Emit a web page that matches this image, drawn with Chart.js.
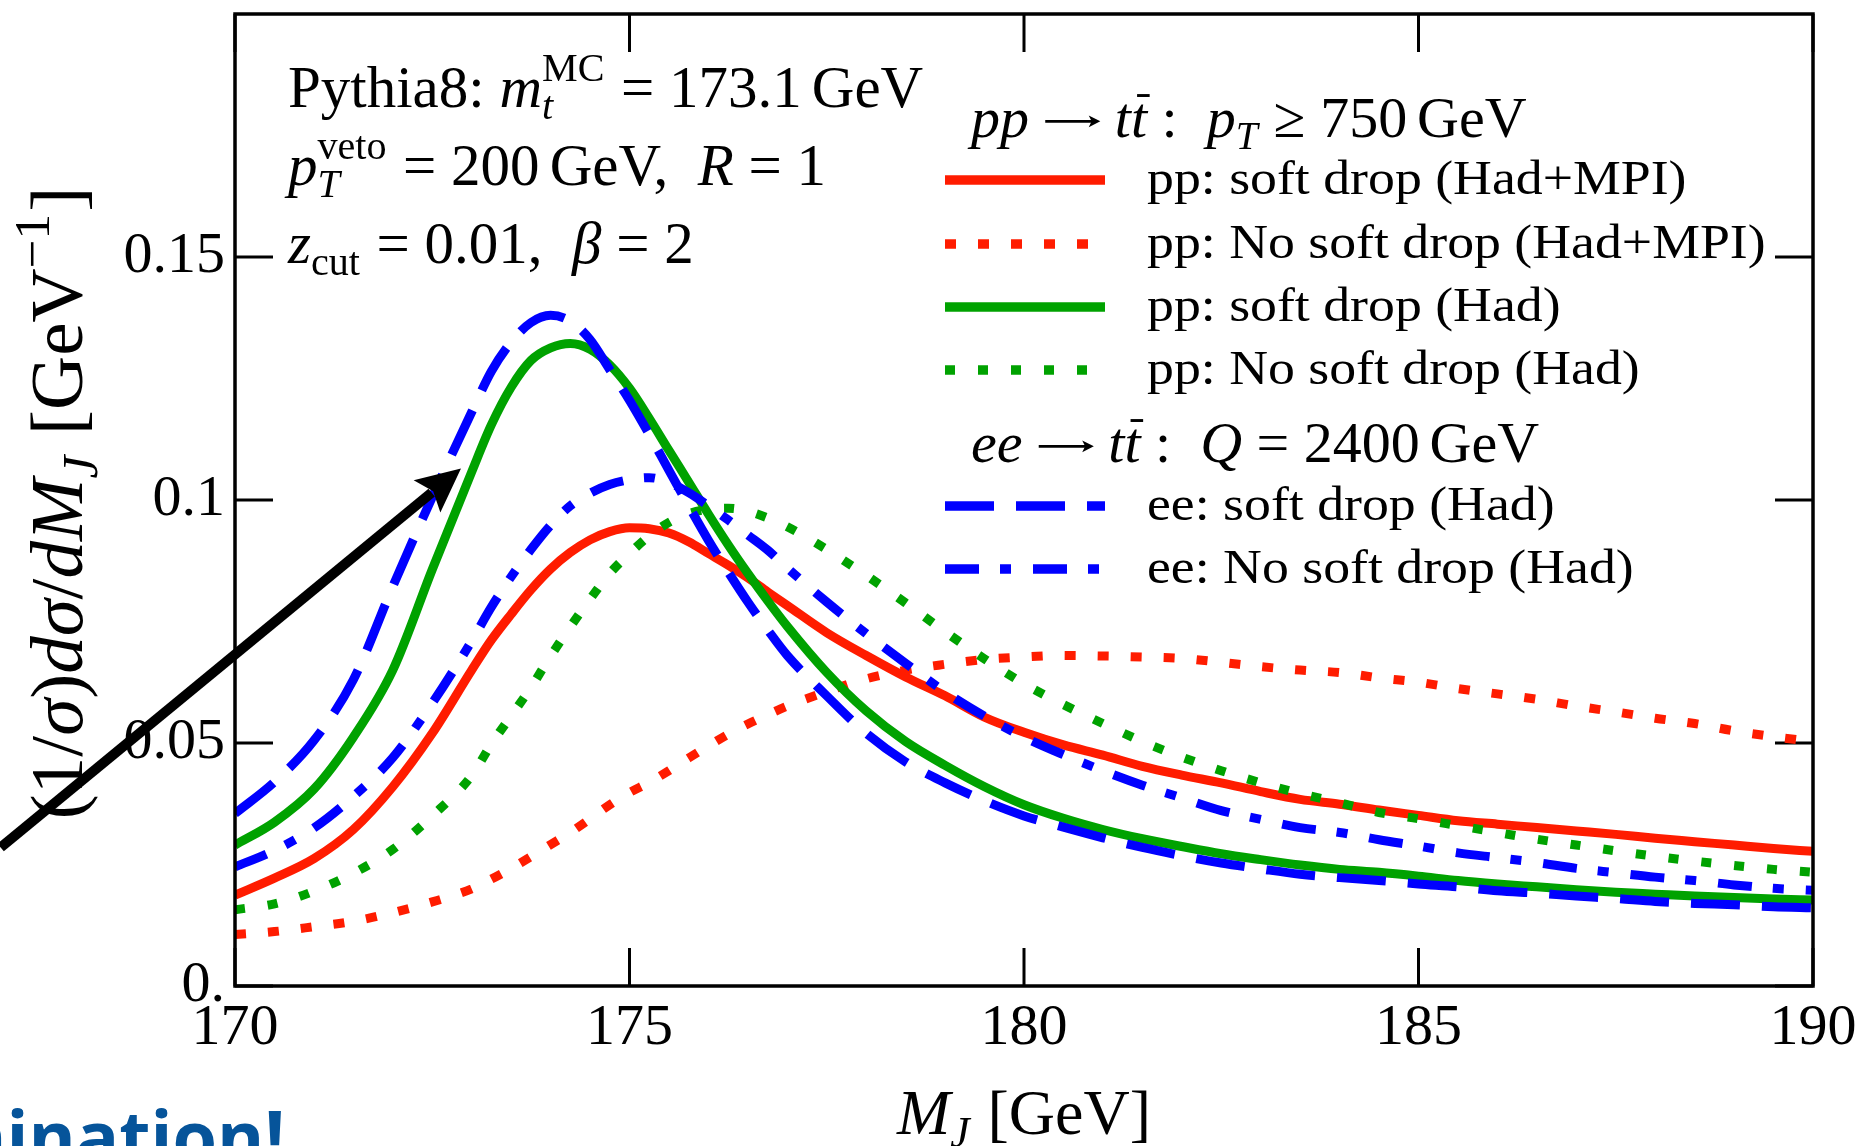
<!DOCTYPE html>
<html>
<head>
<meta charset="utf-8">
<title>Jet mass distributions</title>
<script src="https://cdn.jsdelivr.net/npm/chart.js@4.4.1/dist/chart.umd.min.js"></script>
<style>
  html, body { margin: 0; padding: 0; background: #fff; overflow: hidden; }
  canvas { display: block; }
</style>
</head>
<body>
<canvas id="chart" width="1868" height="1146"></canvas>
<script>
// Jet mass grid M_J [GeV] (finer around the peaks)
const massX = [170, 170.5, 171, 171.5, 172, 172.5,
  173, 173.25, 173.5, 173.75, 174, 174.25, 174.5, 174.75, 175, 175.25, 175.5, 175.75, 176, 176.25, 176.5, 176.75, 177,
  177.5, 178, 178.5, 179, 179.5, 180, 180.5, 181, 181.5, 182, 182.5, 183, 183.5, 184, 184.5, 185, 185.5, 186, 186.5,
  187, 187.5, 188, 188.5, 189, 189.5, 190];

// (1/sigma) dsigma/dM_J [GeV^-1]
const ppSoftDropHadMPI = [0.0187, 0.0222, 0.0262, 0.0322, 0.0410, 0.0520,
  0.0650, 0.0712, 0.0765, 0.0815, 0.0858, 0.0892, 0.0918, 0.0935, 0.0943, 0.0941, 0.0932, 0.0914, 0.0890, 0.0866, 0.0840, 0.0811, 0.0783,
  0.0727, 0.0680, 0.0636, 0.0597, 0.0553, 0.0522, 0.0496, 0.0475, 0.0452, 0.0434, 0.0418, 0.0400, 0.0384, 0.0374, 0.0362, 0.0351, 0.0340,
  0.0333, 0.0326, 0.0319, 0.0312, 0.0304, 0.0297, 0.0290, 0.0283, 0.0277];

const ppNoSoftDropHadMPI = [0.0106, 0.0112, 0.0122, 0.0133, 0.0151, 0.0173,
  0.0200, 0.0220, 0.0242, 0.0266, 0.0291, 0.0316, 0.0344, 0.0373, 0.0398, 0.0419, 0.0443, 0.0469, 0.0494, 0.0518, 0.0539, 0.0558, 0.0576,
  0.0606, 0.0632, 0.0650, 0.0662, 0.0672, 0.0677, 0.0680, 0.0679, 0.0677, 0.0674, 0.0666, 0.0657, 0.0650, 0.0645, 0.0634, 0.0625, 0.0612,
  0.0601, 0.0590, 0.0576, 0.0564, 0.0551, 0.0540, 0.0525, 0.0513, 0.0503];

const ppSoftDropHad = [0.0290, 0.0337, 0.0405, 0.0512, 0.0650, 0.0857,
  0.1058, 0.1155, 0.1232, 0.1287, 0.1313, 0.1322, 0.1310, 0.1278, 0.1230, 0.1168, 0.1102, 0.1037, 0.0971, 0.0908, 0.0849, 0.0793, 0.0740,
  0.0645, 0.0566, 0.0503, 0.0454, 0.0410, 0.0373, 0.0345, 0.0322, 0.0303, 0.0287, 0.0272, 0.0260, 0.0249, 0.0240, 0.0234, 0.0226, 0.0217,
  0.0210, 0.0204, 0.0198, 0.0193, 0.0189, 0.0185, 0.0182, 0.0179, 0.0177];

const ppNoSoftDropHad = [0.0157, 0.0169, 0.0195, 0.0232, 0.0281, 0.0350,
  0.0433, 0.0498, 0.0556, 0.0614, 0.0679, 0.0739, 0.0796, 0.0849, 0.0890, 0.0926, 0.0954, 0.0972, 0.0981, 0.0983, 0.0977, 0.0963, 0.0945,
  0.0898, 0.0845, 0.0788, 0.0729, 0.0673, 0.0622, 0.0579, 0.0540, 0.0503, 0.0471, 0.0443, 0.0418, 0.0396, 0.0377, 0.0357, 0.0344, 0.0330,
  0.0316, 0.0302, 0.0290, 0.0278, 0.0267, 0.0257, 0.0248, 0.0240, 0.0234];

const eeSoftDropHad = [0.0355, 0.0420, 0.0505, 0.0630, 0.0822, 0.1006,
  0.1181, 0.1265, 0.1325, 0.1365, 0.1380, 0.1368, 0.1330, 0.1268, 0.1205, 0.1135, 0.1061, 0.0988, 0.0917, 0.0852, 0.0790, 0.0733, 0.0680,
  0.0597, 0.0520, 0.0461, 0.0418, 0.0381, 0.0350, 0.0327, 0.0305, 0.0285, 0.0268, 0.0253, 0.0241, 0.0230, 0.0223, 0.0217, 0.0210, 0.0204,
  0.0196, 0.0191, 0.0185, 0.0180, 0.0174, 0.0170, 0.0167, 0.0163, 0.0161];

const eeNoSoftDropHad = [0.0245, 0.0279, 0.0325, 0.0390, 0.0470, 0.0582,
  0.0710, 0.0780, 0.0842, 0.0898, 0.0948, 0.0988, 0.1014, 0.1032, 0.1042, 0.1046, 0.1036, 0.1015, 0.0988, 0.0959, 0.0928, 0.0897, 0.0860,
  0.0790, 0.0725, 0.0664, 0.0605, 0.0555, 0.0512, 0.0476, 0.0443, 0.0413, 0.0387, 0.0361, 0.0343, 0.0326, 0.0316, 0.0301, 0.0288, 0.0274,
  0.0264, 0.0254, 0.0242, 0.0233, 0.0224, 0.0217, 0.0208, 0.0201, 0.0197];

const seriesLabels = [
  'pp: soft drop (Had+MPI)',
  'pp: No soft drop (Had+MPI)',
  'pp: soft drop (Had)',
  'pp: No soft drop (Had)',
  'ee: soft drop (Had)',
  'ee: No soft drop (Had)'
];

// Tick labels
const xMajorTicks = [170, 175, 180, 185, 190];
const xTickLabels = ['170', '175', '180', '185', '190'];
const yMajorTicks = [0, 0.05, 0.1, 0.15];
const yTickLabels = ['0.', '0.05', '0.1', '0.15'];

// Arrow annotation, in data units
const arrowTail = { x: 167.03, y: 0.0285 };
const arrowTip = { x: 172.864, y: 0.1065 };

const RED = '#ff1c00';
const GREEN = '#00a200';
const BLUE = '#0000ff';
const SERIF = '"Liberation Serif", "Times New Roman", serif';

const styles = [
  { color: RED, dash: [] },
  { color: RED, dash: [11, 22] },
  { color: GREEN, dash: [] },
  { color: GREEN, dash: [10, 23] },
  { color: BLUE, dash: [49, 22] },
  { color: BLUE, dash: [34, 21, 11, 22] }
];
const seriesValues = [ppSoftDropHadMPI, ppNoSoftDropHadMPI, ppSoftDropHad, ppNoSoftDropHad, eeSoftDropHad, eeNoSoftDropHad];

const datasets = seriesValues.map((vals, i) => ({
  label: seriesLabels[i],
  data: massX.map((x, k) => ({ x: x, y: vals[k] })),
  borderColor: styles[i].color,
  borderDash: styles[i].dash,
  borderWidth: 9,
  borderCapStyle: 'butt',
  borderJoinStyle: 'round',
  pointRadius: 0,
  fill: false,
  cubicInterpolationMode: 'monotone',
  order: 6 - i,
  clip: 0
}));

function fnt(size, italic) {
  return (italic ? 'italic ' : '') + size + 'px ' + SERIF;
}

// Draws a run of mixed roman / italic / sub / superscript pieces; returns its width
function drawRuns(ctx, list, x, y, size, draw) {
  let cx = x;
  for (const r of list) {
    if (r.sp) { cx += r.sp * size; continue; }
    if ('sub' in r || 'sup' in r) {
      const s = size * 0.68;
      let w = 0;
      if (r.sup) {
        ctx.font = fnt(s, r.supI);
        if (draw) ctx.fillText(r.sup, cx, y - 0.44 * size);
        w = Math.max(w, ctx.measureText(r.sup).width);
      }
      if (r.sub) {
        ctx.font = fnt(s, r.subI);
        if (draw) ctx.fillText(r.sub, cx, y + 0.2 * size);
        w = Math.max(w, ctx.measureText(r.sub).width);
      }
      cx += w + 0.03 * size;
      continue;
    }
    if (r.arrow) {
      // long right arrow, on the math axis
      const w = 0.95 * size, ay = y - 0.27 * size;
      if (draw) {
        ctx.save();
        ctx.strokeStyle = ctx.fillStyle;
        ctx.lineWidth = size * 0.045;
        ctx.beginPath();
        ctx.moveTo(cx, ay);
        ctx.lineTo(cx + w - size * 0.06, ay);
        ctx.stroke();
        ctx.beginPath();
        ctx.moveTo(cx + w, ay);
        ctx.lineTo(cx + w - size * 0.2, ay - size * 0.1);
        ctx.lineTo(cx + w - size * 0.15, ay);
        ctx.lineTo(cx + w - size * 0.2, ay + size * 0.1);
        ctx.closePath();
        ctx.fill();
        ctx.restore();
      }
      cx += w;
      continue;
    }
    ctx.font = fnt(size, r.i);
    const w = ctx.measureText(r.t).width;
    if (draw) {
      ctx.fillText(r.t, cx, y);
      if (r.bar) ctx.fillRect(cx + w * 0.38, y - 0.74 * size, w * 0.78, size * 0.05);
    }
    cx += w;
  }
  return cx - x;
}

const infoLines = [
  [{ t: 'Pythia8: ' }, { t: 'm', i: 1 }, { sub: 't', subI: 1, sup: 'MC' }, { t: ' = 173.1' }, { sp: 0.17 }, { t: 'GeV' }],
  [{ t: 'p', i: 1 }, { sub: 'T', subI: 1, sup: 'veto' }, { t: ' = 200' }, { sp: 0.17 }, { t: 'GeV,  ' }, { t: 'R', i: 1 }, { t: ' = 1' }],
  [{ t: 'z', i: 1 }, { sub: 'cut' }, { t: ' = 0.01,  ' }, { t: 'β', i: 1 }, { t: ' = 2' }]
];
const ppHeader = [{ t: 'pp', i: 1 }, { sp: 0.28 }, { arrow: 1 }, { sp: 0.25 }, { t: 't', i: 1 }, { t: 't', i: 1, bar: 1 }, { t: ' :  ' },
  { t: 'p', i: 1 }, { sub: 'T', subI: 1 }, { t: ' ≥ 750' }, { sp: 0.17 }, { t: 'GeV' }];
const eeHeader = [{ t: 'ee', i: 1 }, { sp: 0.28 }, { arrow: 1 }, { sp: 0.25 }, { t: 't', i: 1 }, { t: 't', i: 1, bar: 1 }, { t: ' :  ' },
  { t: 'Q', i: 1 }, { t: ' = 2400' }, { sp: 0.17 }, { t: 'GeV' }];
const yTitle = [{ t: '(1/' }, { t: 'σ', i: 1 }, { t: ')' }, { t: 'dσ', i: 1 }, { t: '/' }, { t: 'dM', i: 1 },
  { sub: 'J', subI: 1 }, { t: ' [GeV' }, { sup: '−1' }, { t: ']' }];
const xTitle = [{ t: 'M', i: 1 }, { sub: 'J', subI: 1 }, { t: ' [GeV]' }];

const framePlugin = {
  id: 'frame',
  beforeDatasetsDraw(chart) {
    const { ctx, chartArea: a, scales } = chart;
    ctx.save();
    ctx.strokeStyle = '#000';
    ctx.lineWidth = 3;
    ctx.lineCap = 'butt';
    ctx.beginPath();
    for (const t of scales.x.ticks) {
      const px = scales.x.getPixelForValue(t.value);
      const L = Math.abs(t.value % 5) < 1e-6 ? 38 : 19;
      ctx.moveTo(px, a.bottom); ctx.lineTo(px, a.bottom - L);
      ctx.moveTo(px, a.top); ctx.lineTo(px, a.top + L);
    }
    for (const t of scales.y.ticks) {
      const py = scales.y.getPixelForValue(t.value);
      const k = Math.round(t.value * 100);
      const L = k % 5 === 0 ? 38 : 19;
      ctx.moveTo(a.left, py); ctx.lineTo(a.left + L, py);
      ctx.moveTo(a.right, py); ctx.lineTo(a.right - L, py);
    }
    ctx.stroke();
    ctx.restore();
  },
  afterDatasetsDraw(chart) {
    const { ctx, chartArea: a } = chart;
    ctx.save();
    ctx.strokeStyle = '#000';
    ctx.lineWidth = 3.5;
    ctx.strokeRect(a.left, a.top, a.right - a.left, a.bottom - a.top);
    ctx.restore();
  },
  afterDraw(chart) {
    const { ctx, chartArea: a, scales } = chart;
    ctx.save();
    ctx.fillStyle = '#000';
    ctx.textBaseline = 'alphabetic';
    ctx.textAlign = 'left';

    // parameter box, top left
    const infoBase = [107, 185, 263];
    infoLines.forEach((ln, i) => drawRuns(ctx, ln, 288, infoBase[i], 59, true));

    // legend
    drawRuns(ctx, ppHeader, 971, 137, 58, true);
    drawRuns(ctx, eeHeader, 971, 462, 58, true);
    const rowY = [180, 244, 307, 370, 506, 569];
    chart.data.datasets.forEach((ds, i) => {
      const y = rowY[i];
      ctx.save();
      ctx.strokeStyle = ds.borderColor;
      ctx.lineWidth = 9.5;
      ctx.lineCap = 'butt';
      ctx.setLineDash(ds.borderDash);
      ctx.beginPath();
      ctx.moveTo(945, y);
      ctx.lineTo(1105, y);
      ctx.stroke();
      ctx.restore();
      ctx.save();
      ctx.translate(1147, y + 14);
      ctx.scale(1.12, 1);
      ctx.font = fnt(48, false);
      ctx.fillText(ds.label, 0, 0);
      ctx.restore();
    });

    // axis titles
    const xw = drawRuns(ctx, xTitle, 0, 0, 64, false);
    drawRuns(ctx, xTitle, (a.left + a.right) / 2 - xw / 2, 1134, 64, true);
    ctx.save();
    ctx.translate(82, 503);
    ctx.rotate(-Math.PI / 2);
    const yw = drawRuns(ctx, yTitle, 0, 0, 75, false);
    drawRuns(ctx, yTitle, -yw / 2, 0, 75, true);
    ctx.restore();

    // arrow
    const x0 = scales.x.getPixelForValue(arrowTail.x), y0 = scales.y.getPixelForValue(arrowTail.y);
    const x1 = scales.x.getPixelForValue(arrowTip.x), y1 = scales.y.getPixelForValue(arrowTip.y);
    const len = Math.hypot(x1 - x0, y1 - y0);
    const ux = (x1 - x0) / len, uy = (y1 - y0) / len;
    const nx = -uy, ny = ux;
    const head = 44, half = 21;
    ctx.strokeStyle = '#000';
    ctx.lineWidth = 10;
    ctx.beginPath();
    ctx.moveTo(x0, y0);
    ctx.lineTo(x1 - ux * (head - 6), y1 - uy * (head - 6));
    ctx.stroke();
    ctx.beginPath();
    ctx.moveTo(x1, y1);
    ctx.lineTo(x1 - ux * head + nx * half, y1 - uy * head + ny * half);
    ctx.lineTo(x1 - ux * (head - 8), y1 - uy * (head - 8));
    ctx.lineTo(x1 - ux * head - nx * half, y1 - uy * head - ny * half);
    ctx.closePath();
    ctx.fill();

    // slide caption fragment
    ctx.fillStyle = '#06549a';
    ctx.font = 'bold 72px "Open Sans", sans-serif';
    ctx.textAlign = 'right';
    ctx.fillText('mination!', 285, 1163);
    ctx.restore();
  }
};

new Chart(document.getElementById('chart'), {
  type: 'line',
  data: { datasets: datasets },
  options: {
    responsive: false,
    devicePixelRatio: 1,
    animation: false,
    events: [],
    layout: { padding: { left: 0, right: 55, top: 14, bottom: 0 } },
    plugins: { legend: { display: false }, tooltip: { enabled: false }, title: { display: false } },
    scales: {
      x: {
        type: 'linear',
        min: 170,
        max: 190,
        grid: { display: false, drawTicks: false },
        border: { display: false },
        ticks: {
          stepSize: 1,
          autoSkip: false,
          maxRotation: 0,
          padding: 8,
          color: '#000',
          font: { family: SERIF, size: 58 },
          callback: (v) => {
            const idx = xMajorTicks.indexOf(Math.round(v));
            return (idx >= 0 && Math.abs(v - Math.round(v)) < 1e-6) ? xTickLabels[idx] : null;
          }
        },
        afterFit: (s) => { s.height = 160; s.paddingLeft = 0; s.paddingRight = 0; }
      },
      y: {
        type: 'linear',
        min: 0,
        max: 0.2,
        grid: { display: false, drawTicks: false },
        border: { display: false },
        ticks: {
          stepSize: 0.01,
          autoSkip: false,
          padding: 10,
          color: '#000',
          font: { family: SERIF, size: 58 },
          callback: (v) => {
            const k = Math.round(v * 100);
            const idx = yMajorTicks.findIndex(t => Math.round(t * 100) === k);
            return idx >= 0 ? yTickLabels[idx] : null;
          }
        },
        afterFit: (s) => { s.width = 235; s.paddingTop = 0; s.paddingBottom = 0; }
      }
    }
  },
  plugins: [framePlugin]
});
</script>
</body>
</html>
